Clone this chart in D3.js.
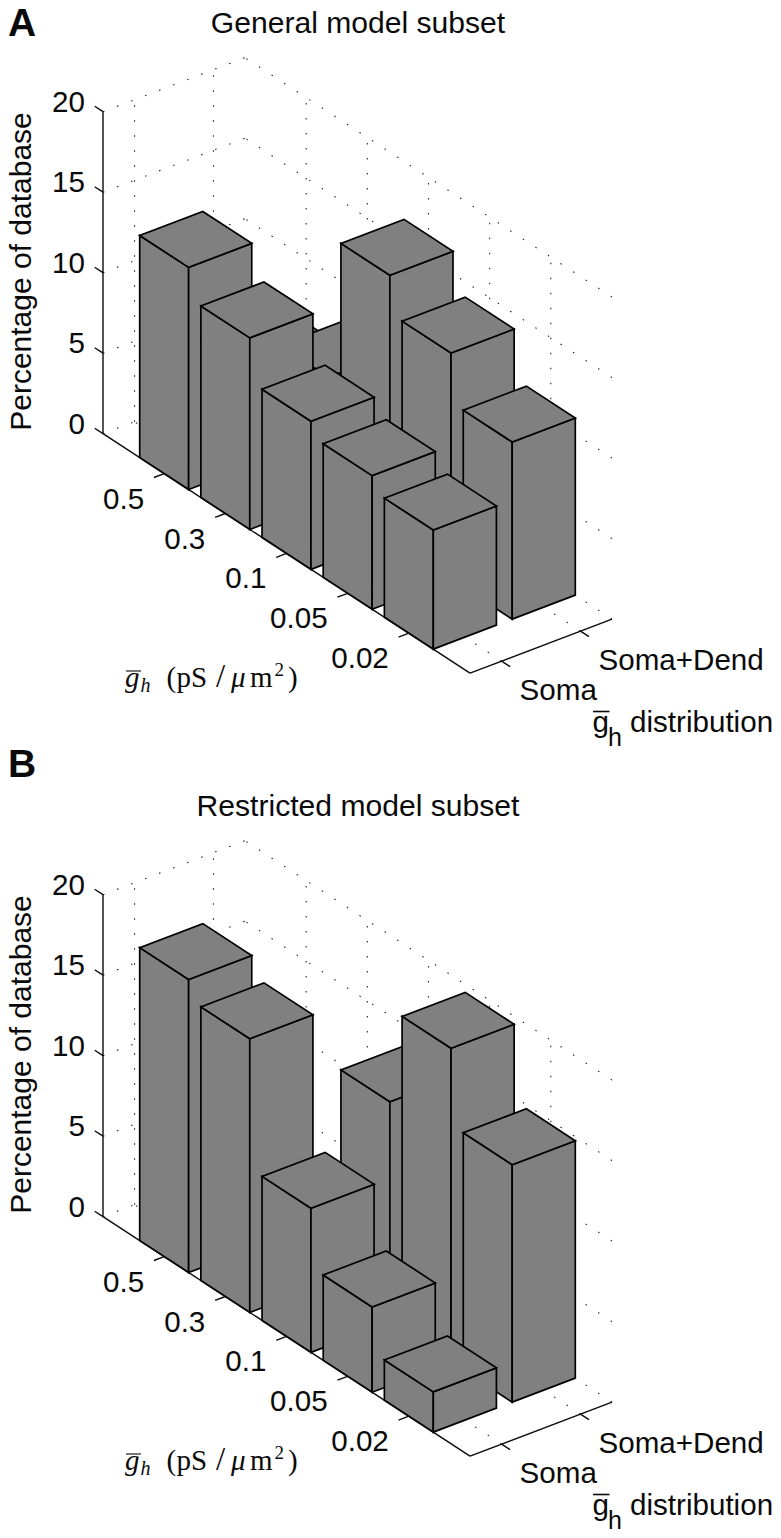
<!DOCTYPE html>
<html>
<head>
<meta charset="utf-8">
<script src="https://cdn.jsdelivr.net/npm/d3@7/dist/d3.min.js"></script>
<style>
html,body{margin:0;padding:0;background:#fff}
svg{display:block}
text{font-family:"Liberation Sans",Arial,sans-serif;fill:#0a0a0a}
</style>
</head>
<body>
<svg id="chart" width="781" height="1538"></svg>
<script>
// ---- data ----
const conductances = ["0.5", "0.3", "0.1", "0.05", "0.02"];
const distributions = ["Soma", "Soma+Dend"];
const zTicks = [0, 5, 10, 15, 20];
const generalSoma = [13.8, 11.9, 9.2, 8.3, 7.4];
const generalDend = [6.0, 7.6, 16.4, 14.05, 11.0];      // first value hidden behind other bars
const restrictedSoma = [18.2, 17.0, 8.95, 5.3, 2.5];
const restrictedDend = [2.5, 3.0, 13.7, 19.5, 14.75];   // first two values hidden behind other bars

// ---- projection built from scales ----
const uX = d3.scaleLinear().domain([0, 6]).range([0, 367]);
const uY = d3.scaleLinear().domain([0, 6]).range([0, 239.4]);
const vX = d3.scaleLinear().domain([0.6, 2.4]).range([0, 142]);
const vY = d3.scaleLinear().domain([0.6, 2.4]).range([0, -54]);
const zY = d3.scaleLinear().domain([0, 20]).range([0, -322]);
const ORIGIN = [103, 433.7];
const P = (u, v, z) => [ORIGIN[0] + uX(u) + vX(v), ORIGIN[1] + uY(u) + vY(v) + zY(z)];
const line = d3.line();
const closed = pts => line(pts) + "Z";
const BAR = 0.4;

const svg = d3.select("#chart");

function dotted(g, a, b) {
  g.append("path").attr("d", line([a, b]))
    .attr("fill", "none").attr("stroke", "#222").attr("stroke-width", 1.1)
    .attr("stroke-dasharray", "1.5 13.5");
}
function solid(g, a, b) {
  g.append("path").attr("d", line([a, b]))
    .attr("fill", "none").attr("stroke", "#0a0a0a").attr("stroke-width", 1.4);
}

function panel(offset, letter, letterY, title, soma, dend) {
  svg.append("text").attr("x", 8).attr("y", letterY)
    .attr("font-size", 39).attr("font-weight", "bold").text(letter);

  const g = svg.append("g").attr("transform", `translate(0,${offset})`);

  g.append("text").attr("x", 358).attr("y", 33.3).attr("text-anchor", "middle")
    .attr("font-size", 30.1).text(title);

  // grid
  const grid = g.append("g");
  zTicks.forEach(z => {
    dotted(grid, P(0, 0.6, z), P(0, 2.4, z));
    dotted(grid, P(6, 2.4, z), P(0, 2.4, z));
  });
  [1, 2].forEach(v => {
    dotted(grid, P(0, v, 0), P(0, v, 20));
    dotted(grid, P(6, v, 0), P(0, v, 0));
  });
  conductances.forEach((c, i) => {
    dotted(grid, P(i + 1, 2.4, 0), P(i + 1, 2.4, 20));
    dotted(grid, P(i + 1, 0.6, 0), P(i + 1, 2.4, 0));
  });

  // bars, back row first
  const bars = [];
  dend.forEach((z, i) => bars.push({ u: i + 1, v: 2, z }));
  soma.forEach((z, i) => bars.push({ u: i + 1, v: 1, z }));
  const barG = g.append("g").attr("fill", "#808080").attr("stroke", "#000")
    .attr("stroke-width", 1.7).attr("stroke-linejoin", "miter");
  bars.forEach(b => {
    const u0 = b.u - BAR, u1 = b.u + BAR, v0 = b.v - BAR, v1 = b.v + BAR;
    barG.append("path").attr("d", closed([P(u0, v0, 0), P(u1, v0, 0), P(u1, v0, b.z), P(u0, v0, b.z)]));
    barG.append("path").attr("d", closed([P(u1, v0, 0), P(u1, v1, 0), P(u1, v1, b.z), P(u1, v0, b.z)]));
    barG.append("path").attr("d", closed([P(u0, v0, b.z), P(u1, v0, b.z), P(u1, v1, b.z), P(u0, v1, b.z)]));
  });

  // axes
  solid(g, P(0, 0.6, 0), P(0, 0.6, 20));
  solid(g, P(0, 0.6, 0), P(6, 0.6, 0));
  solid(g, P(6, 0.6, 0), P(6, 2.4, 0));

  // z ticks and labels
  zTicks.forEach(z => {
    solid(g, P(0, 0.6, z), P(-0.136, 0.6, z));
    const p = P(0, 0.6, z);
    g.append("text").attr("x", p[0] - 18).attr("y", p[1]).attr("text-anchor", "end")
      .attr("font-size", 29.6).text(z);
  });
  // conductance ticks and labels
  conductances.forEach((c, i) => {
    const p = P(i + 1, 0.6, 0);
    solid(g, p, P(i + 1, 0.47, 0));
    g.append("text").attr("x", p[0] - 20).attr("y", p[1] + 35).attr("text-anchor", "end")
      .attr("font-size", 29.6).text(c);
  });
  // distribution ticks and labels
  distributions.forEach((d, i) => {
    const p = P(6, i + 1, 0);
    solid(g, p, P(6.14, i + 1, 0));
    g.append("text").attr("x", p[0] + 18).attr("y", p[1] + 38.5)
      .attr("font-size", 29.6).text(d);
  });

  // y label
  g.append("text").attr("transform", "translate(30.5,271.5) rotate(-90)")
    .attr("text-anchor", "middle").attr("font-size", 30).text("Percentage of database");

  // g_h distribution label
  const lab = g.append("text").attr("y", 731.7).attr("font-size", 29.6);
  lab.append("tspan").attr("x", 592.5).text("g");
  lab.append("tspan").attr("x", 608).attr("dy", 14).attr("font-size", 25).text("h");
  lab.append("tspan").attr("x", 630).attr("dy", -14).text("distribution");
  g.append("path").attr("d", line([[593, 711.5], [609.5, 711.5]])).attr("stroke", "#0a0a0a").attr("stroke-width", 1.6);

  // math label
  const ser = '"Liberation Serif","DejaVu Serif",serif';
  const m = g.append("text").attr("y", 686.7).attr("font-size", 29).style("font-family", ser);
  m.append("tspan").attr("x", 125).attr("font-style", "italic").text("g");
  m.append("tspan").attr("x", 140.5).attr("dy", 5).attr("font-style", "italic").attr("font-size", 20).text("h");
  m.append("tspan").attr("x", 166.5).attr("dy", -5).text("(");
  m.append("tspan").attr("x", 176.5).text("pS");
  m.append("tspan").attr("x", 216).attr("font-size", 33).text("/");
  m.append("tspan").attr("x", 231).attr("font-style", "italic").text("\u03BC");
  m.append("tspan").attr("x", 250).text("m");
  m.append("tspan").attr("x", 274.5).attr("dy", -11).attr("font-size", 19).text("2");
  m.append("tspan").attr("x", 288).attr("dy", 11).text(")");
  g.append("path").attr("d", line([[126, 671], [141, 671]])).attr("stroke", "#0a0a0a").attr("stroke-width", 1.1);
}

panel(0, "A", 36, "General model subset", generalSoma, generalDend);
panel(783, "B", 776.7, "Restricted model subset", restrictedSoma, restrictedDend);
</script>
</body>
</html>
